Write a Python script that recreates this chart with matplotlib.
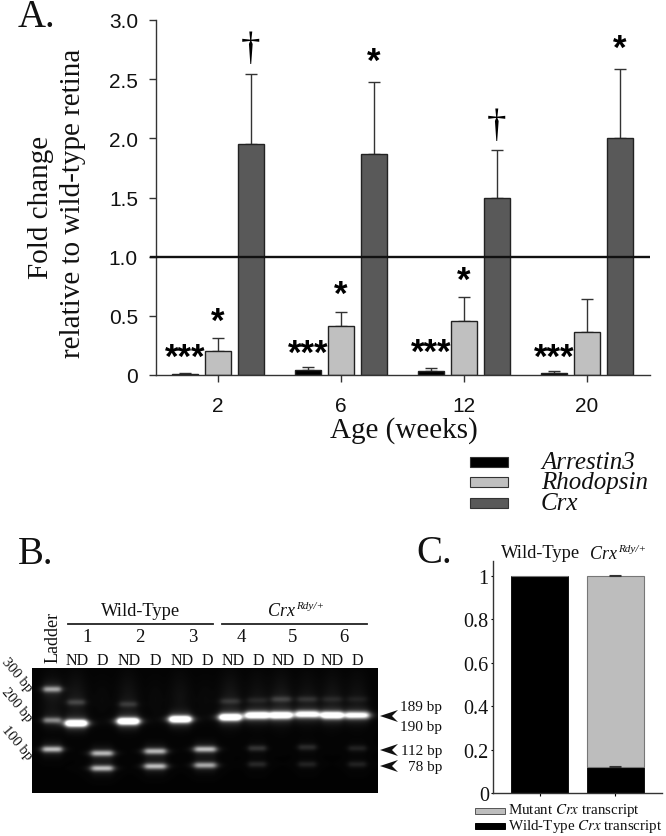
import numpy as np
import matplotlib
matplotlib.use("Agg")
import matplotlib.pyplot as plt
from matplotlib.patches import Rectangle, Polygon

SERIF = "Liberation Serif"
SANS = "Liberation Sans"

# Panel A data
ages = ["2", "6", "12", "20"]
arrestin = [0.01, 0.04, 0.035, 0.02]
arrestin_top = [0.02, 0.065, 0.055, 0.035]
rhodopsin = [0.20, 0.41, 0.455, 0.365]
rhodopsin_top = [0.31, 0.53, 0.66, 0.64]
crx = [1.95, 1.87, 1.50, 2.00]
crx_top = [2.54, 2.475, 1.905, 2.585]
yticks_a = [0, 0.5, 1.0, 1.5, 2.0, 2.5, 3.0]
yticklabels_a = ["0", "0.5", "1.0", "1.5", "2.0", "2.5", "3.0"]

# Panel B data: lane centre (px), band y (px), intensity, half width
gel_lanes = [52, 76, 102, 128, 155, 180, 205, 230, 257, 281, 307, 332, 357]
gel_bands = [
    (0, 690, .50, 9), (0, 721, .42, 9), (0, 750, .62, 10),
    (1, 724, 1.3, 11), (1, 703, .17, 9),
    (2, 754, .60, 11), (2, 769, .62, 11),
    (3, 722, 1.3, 11), (3, 705, .14, 9),
    (4, 752, .60, 11), (4, 767, .62, 11),
    (5, 720, 1.3, 11),
    (6, 750, .62, 11), (6, 766, .55, 11),
    (7, 718, 1.3, 11), (7, 702, .12, 10),
    (8, 716, 1.2, 12), (8, 749, .16, 9), (8, 765, .12, 9), (8, 701, .08, 10),
    (9, 716, 1.2, 11), (9, 700, .16, 10),
    (10, 715, 1.0, 12), (10, 748, .13, 9), (10, 765, .10, 9), (10, 700, .12, 10),
    (11, 716, 1.2, 11), (11, 700, .08, 10),
    (12, 716, .95, 12), (12, 749, .10, 9), (12, 765, .10, 9), (12, 700, .06, 10),
]
gel_smears = [0.06, 0.07, 0.02, 0.06, 0.02, 0.05, 0.02, 0.07, 0.05, 0.07, 0.05, 0.06, 0.05]
lane_labels = ["ND", "D", "ND", "D", "ND", "D", "ND", "D", "ND", "D", "ND", "D"]
lane_label_x = [77, 102, 129, 155, 182, 207, 233, 258, 283, 308, 332, 357]
sample_numbers = ["1", "2", "3", "4", "5", "6"]
ladder_labels = ["300 bp", "200 bp", "100 bp"]
size_labels = ["189 bp", "190 bp", "112 bp", "78 bp"]

# Panel C data
genotypes = ["Wild-Type", "Rdy"]
wild_share = [1.0, 0.12]
mutant_share = [0.0, 0.88]
yticks_c = [0, 0.2, 0.4, 0.6, 0.8, 1]
yticklabels_c = ["0", "0.2", "0.4", "0.6", "0.8", "1"]

W, H = 666, 837
fig = plt.figure(figsize=(W / 100, H / 100), dpi=100, facecolor="white")


def px_axes(x0, y0, x1, y1, **kw):
    return fig.add_axes([x0 / W, 1 - y1 / H, (x1 - x0) / W, (y1 - y0) / H], **kw)


# ---------- Panel A
ax = px_axes(156, 21, 650, 376)
ax.set_xlim(-0.504, 3.512)
ax.set_ylim(0, 3)
pos = np.arange(len(ages))
off, bw = 0.268, 0.215
series = [(arrestin, arrestin_top, "#000000", -off),
          (rhodopsin, rhodopsin_top, "#c0c0c0", 0),
          (crx, crx_top, "#595959", off)]
for vals, tops, col, dx in series:
    v = np.array(vals)
    ax.bar(pos + dx, v, bw, color=col, edgecolor="#222222", linewidth=1.0, zorder=2)
    ax.errorbar(pos + dx, v, yerr=[np.zeros(len(v)), np.array(tops) - v], fmt="none",
                ecolor="#333333", elinewidth=1.0, capsize=4, capthick=1.0, zorder=1)
ax.axhline(1.0, color="#111111", lw=1.7, zorder=3)
ax.plot([-0.504 - 0.04, -0.504], [1, 1], color="#111111", lw=1.7, clip_on=False)
for s in ["top", "right"]:
    ax.spines[s].set_visible(False)
for s in ["left", "bottom"]:
    ax.spines[s].set_color("#333333")
    ax.spines[s].set_linewidth(1.0)
ax.set_xticks(pos, ages, family=SANS, fontsize=15, color="#111111")
ax.set_yticks(yticks_a, yticklabels_a, family=SANS, fontsize=15, color="#111111")
ax.tick_params(axis="x", length=5, width=1, color="#333333", pad=10)
ax.tick_params(axis="y", length=5, width=1, color="#333333", pad=8)
ax.patch.set_alpha(0)


def mark(i, dx, y, s):
    ax.text(i + dx, y, s, family=SANS, fontsize=25, fontweight="bold", ha="center", va="center",
            color="black", zorder=5, clip_on=False)


for i, y in enumerate([0.15, 0.18, 0.19, 0.15]):
    mark(i, -0.27, y, "***")
for i, y in zip([0, 1, 2], [0.45, 0.68, 0.80]):
    mark(i, 0, y, "*")
mark(1, off, 2.65, "*")
mark(3, off, 2.76, "*")
for i, y in [(0, 2.76), (2, 2.11)]:
    ax.text(i + off, y, "\u2020", family=SERIF, fontsize=28, ha="center", va="center", color="black")

# ---------- Panel B gel
gel = px_axes(32, 669, 378, 794)
yy, xx = np.mgrid[669:794:0.5, 32:378:0.5]
img = np.full(xx.shape, 0.015)
for lane, y, amp, hw in gel_bands:
    cx = gel_lanes[lane]
    profile = 1 / (1 + ((xx - cx) / hw) ** 6)
    sy = 3.4 if amp > 0.9 else 3.0
    img += amp * profile * np.exp(-((yy - y) / sy) ** 2)
    img += 0.18 * amp * profile * np.exp(-((yy - y) / 7.5) ** 2)
for lane, amp in enumerate(gel_smears):
    cx = gel_lanes[lane]
    img += amp * np.exp(-((xx - cx) / 11.0) ** 2) * np.exp(-((yy - 700) / 26.0) ** 2)
gel.imshow(np.clip(img, 0, 1), extent=[32, 378, 794, 669], cmap="gray", vmin=0, vmax=1,
           aspect="auto", interpolation="bilinear")
gel.axis("off")

# ---------- Panel C
axc = px_axes(493, 562, 662, 794)
axc.set_xlim(-0.612, 1.612)
axc.set_ylim(0, 232 / 217)
xc = np.arange(len(genotypes))
axc.bar(xc, wild_share, 0.75, color="black", edgecolor="black", linewidth=0.6, zorder=2)
axc.bar(xc, mutant_share, 0.75, bottom=wild_share, color="#bdbdbd", edgecolor="#777777",
        linewidth=0.8, zorder=2)
axc.errorbar([1, 1], [wild_share[1], 1.0], yerr=[[0, 0], [0.005, 0.004]], fmt="none",
             ecolor="#333333", elinewidth=0.8, capsize=4, capthick=0.8, zorder=3)
for s in ["top", "right"]:
    axc.spines[s].set_visible(False)
for s in ["left", "bottom"]:
    axc.spines[s].set_color("#333333")
    axc.spines[s].set_linewidth(1.0)
axc.set_xticks(xc, ["", ""])
axc.set_yticks(yticks_c, yticklabels_c, family=SERIF, fontsize=14.5, color="#111111")
axc.tick_params(axis="x", length=2, width=0.8)
axc.tick_params(axis="y", length=1.5, width=0.8, pad=1.5)

# ---------- Overlay of text placed in pixels
ov = fig.add_axes([0, 0, 1, 1], zorder=10)
ov.set_xlim(0, W)
ov.set_ylim(H, 0)
ov.axis("off")


def t(x, y, s, size=11, ha="center", va="center", rot=0, style="normal", family=SERIF, color="#111111"):
    ov.text(x, y, s, fontsize=size, ha=ha, va=va, rotation=rot, style=style, family=family,
            color=color, rotation_mode="anchor")


# Panel letters
t(18, 27, "A.", 28, ha="left", va="baseline")
t(18, 564, "B.", 28, ha="left", va="baseline")
t(416, 563, "C.", 28, ha="left", va="baseline")

# Panel A labels
t(41, 207, "Fold change", 21, rot=90)
t(73, 203, "relative to wild-type retina", 21, rot=90)
t(404, 431, "Age (weeks)", 21)

# Panel A legend
legend_rows = [("Arrestin3", "#000000", 463), ("Rhodopsin", "#c0c0c0", 483), ("Crx", "#595959", 504)]
for name, col, yc in legend_rows:
    ov.add_patch(Rectangle((470, yc - 5), 38, 10, fc=col, ec="#333333", lw=0.8))
    t(541, yc, name, 18, ha="left", style="italic")

# Panel B labels
t(141, 611, "Wild-Type", 13.3)
t(268, 616, "Crx", 13, ha="left", va="baseline", style="italic")
t(296, 609, "Rdy/+", 8, ha="left", va="baseline", style="italic")
ov.plot([68, 213], [625, 625], color="#222222", lw=1.3)
ov.plot([222, 367], [625, 625], color="#222222", lw=1.3)
for lab, x in zip(sample_numbers, [87, 140, 193, 241, 293, 344]):
    t(x, 637, lab, 13.5)
for lab, x in zip(lane_labels, lane_label_x):
    t(x, 661, lab, 11.5)
t(53, 637, "Ladder", 13, rot=90)
for lab, x, y in zip(ladder_labels, [17, 17, 17], [675, 705, 743]):
    t(x, y, lab, 10.5, rot=-50)
for lab, y in zip(size_labels, [708, 727, 752, 768]):
    t(442, y, lab, 11, ha="right")
for yc in [717, 751, 767]:
    ov.add_patch(Polygon([(380, yc), (398, yc - 6), (392, yc), (398, yc + 6)], fc="#111111", ec="none"))

# Panel C labels
t(541, 553, "Wild-Type", 13.3)
t(590, 559, "Crx", 13, ha="left", va="baseline", style="italic")
t(618, 552, "Rdy/+", 8, ha="left", va="baseline", style="italic")
ov.add_patch(Rectangle((475, 809), 30, 6, fc="#bdbdbd", ec="#555555", lw=0.7))
ov.add_patch(Rectangle((475, 824), 30, 6, fc="black", ec="black", lw=0.7))
ov.text(508, 811, r"Mutant $\mathit{Crx}$ transcript", fontsize=10.8, ha="left", va="center",
        family=SERIF, math_fontfamily="stix", color="#111111")
ov.text(508, 827, r"Wild-Type $\mathit{Crx}$ transcript", fontsize=10.8, ha="left", va="center",
        family=SERIF, math_fontfamily="stix", color="#111111")

fig.savefig("out.png", dpi=100, facecolor="white")
